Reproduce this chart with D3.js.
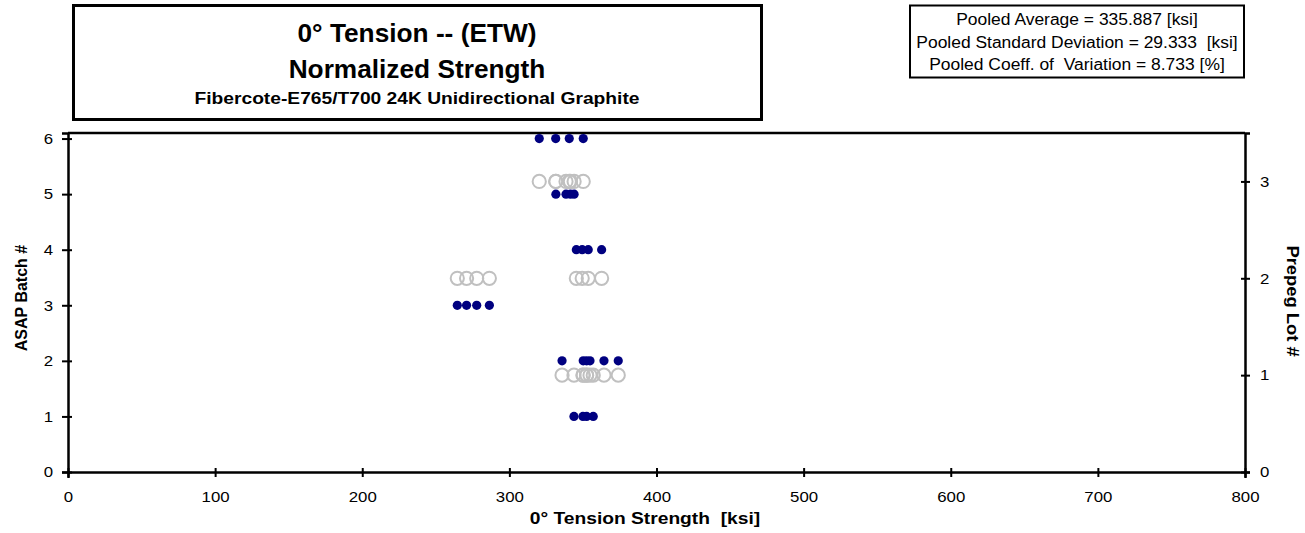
<!DOCTYPE html>
<html><head><meta charset="utf-8">
<script src="https://cdn.jsdelivr.net/npm/d3@7"></script>
<style>body{margin:0;background:#fff}svg{display:block}text{font-family:"Liberation Sans",Arial,sans-serif;white-space:pre}</style>
</head><body><svg id="c" width="1305" height="533"></svg>
<script>
// ---- data (ksi) ----
const batchNumbers = [1, 2, 3, 4, 5, 6];
const batch1 = [343.9, 350.0, 352.5, 357.0];
const batch2 = [335.8, 350.2, 352.5, 354.8, 364.3, 374.0];
const batch3 = [264.6, 270.9, 277.8, 286.4];
const batch4 = [345.5, 349.5, 353.6, 362.7];
const batch5 = [331.6, 338.5, 341.5, 344.0];
const batch6 = [320.3, 331.5, 340.7, 350.2];
const lotNumbers = [1, 2, 3];
const lot1 = [343.9, 350.0, 352.5, 357.0, 335.8, 350.2, 352.5, 354.8, 364.3, 374.0];
const lot2 = [264.6, 270.9, 277.8, 286.4, 345.5, 349.5, 353.6, 362.7];
const lot3 = [331.6, 338.5, 341.5, 344.0, 320.3, 331.5, 340.7, 350.2];
const xTicks = [0, 100, 200, 300, 400, 500, 600, 700, 800];
const leftTicks = [0, 1, 2, 3, 4, 5, 6];
const rightTicks = [0, 1, 2, 3];
const titleLines = ["0° Tension -- (ETW)", "Normalized Strength", "Fibercote-E765/T700 24K Unidirectional Graphite"];
const statsLines = ["Pooled Average = 335.887 [ksi]", "Pooled Standard Deviation = 29.333  [ksi]", "Pooled Coeff. of  Variation = 8.733 [%]"];
const xTitle = "0° Tension Strength  [ksi]";
const yLeftTitle = "ASAP Batch #";
const yRightTitle = "Prepeg Lot #";

const batches = [batch1, batch2, batch3, batch4, batch5, batch6];
const lots = [lot1, lot2, lot3];

// ---- helpers ----
function stretch(sel, sx) {
  sel.each(function () {
    const w = this.getComputedTextLength();
    this.setAttribute("textLength", (w * sx).toFixed(2));
    this.setAttribute("lengthAdjust", "spacingAndGlyphs");
  });
}

// ---- layout ----
const svg = d3.select("#c");
const L = 68, R = 1245, T = 133, B = 472;
const x = d3.scaleLinear().domain([0, 800]).range([L, R]);
const yL = d3.scaleLinear().domain([0, 6.1]).range([B, T]);
const yR = d3.scaleLinear().domain([0, 3.5]).range([B, T]);

svg.append("rect").attr("width", 1305).attr("height", 533).attr("fill", "#fff");

// title box
const tb = svg.append("g");
tb.append("rect").attr("x", 73.5).attr("y", 5.5).attr("width", 688).attr("height", 114)
  .attr("fill", "none").attr("stroke", "#000").attr("stroke-width", 3);
const tcx = 417;
stretch(tb.append("text").attr("x", tcx).attr("y", 42).attr("text-anchor", "middle")
  .attr("font-size", 25).attr("font-weight", "bold").text(titleLines[0]), 1.05);
stretch(tb.append("text").attr("x", tcx).attr("y", 78).attr("text-anchor", "middle")
  .attr("font-size", 25).attr("font-weight", "bold").text(titleLines[1]), 1.05);
stretch(tb.append("text").attr("x", tcx).attr("y", 104).attr("text-anchor", "middle")
  .attr("font-size", 16).attr("font-weight", "bold").text(titleLines[2]), 1.2);

// stats box
const sb = svg.append("g");
sb.append("rect").attr("x", 910).attr("y", 5.5).attr("width", 334).attr("height", 72)
  .attr("fill", "none").attr("stroke", "#000").attr("stroke-width", 2);
statsLines.forEach((s, i) => {
  stretch(sb.append("text").attr("x", 1077).attr("y", 25 + i * 22.5).attr("text-anchor", "middle")
    .attr("font-size", 16).text(s), 1.09);
});

// plot frame top line
svg.append("line").attr("x1", L).attr("x2", R).attr("y1", T).attr("y2", T)
  .attr("stroke", "#000").attr("stroke-width", 2.5);

function styleAxis(g) {
  g.select(".domain").attr("stroke", "#000").attr("stroke-width", 2.5);
  g.selectAll(".tick line").attr("stroke", "#000").attr("stroke-width", 2);
  g.selectAll("text").attr("fill", "#000").attr("font-size", 15)
    .attr("font-family", '"Liberation Sans",Arial,sans-serif');
  stretch(g.selectAll("text"), 1.12);
}

// bottom axis
const gx = svg.append("g").attr("transform", `translate(0,${B})`)
  .call(d3.axisBottom(x).tickValues(xTicks).tickSizeOuter(0).tickSize(6).tickPadding(13).tickFormat(d3.format("d")));
gx.selectAll(".tick line").attr("y1", -4).attr("y2", 5);
styleAxis(gx);

// left axis
const gl = svg.append("g").attr("transform", `translate(${L},0)`)
  .call(d3.axisLeft(yL).tickValues(leftTicks).tickSizeOuter(0).tickSize(6).tickPadding(9).tickFormat(d3.format("d")));
gl.selectAll(".tick line").attr("x1", -6).attr("x2", 4);
styleAxis(gl);

// right axis
const gr = svg.append("g").attr("transform", `translate(${R},0)`)
  .call(d3.axisRight(yR).tickValues(rightTicks).tickSizeOuter(0).tickSize(5).tickPadding(10).tickFormat(d3.format("d")));
gr.selectAll(".tick line").attr("x1", -4).attr("x2", 5);
styleAxis(gr);

// axis titles
stretch(svg.append("text").attr("x", 645).attr("y", 524).attr("text-anchor", "middle")
  .attr("font-size", 16).attr("font-weight", "bold").text(xTitle), 1.2);
svg.append("text").attr("transform", `translate(27,298) rotate(-90)`).attr("text-anchor", "middle")
  .attr("font-size", 16).attr("font-weight", "bold").text(yLeftTitle);
stretch(svg.append("text").attr("transform", `translate(1287,301) rotate(90)`).attr("text-anchor", "middle")
  .attr("font-size", 17).attr("font-weight", "bold").text(yRightTitle), 1.08);

// lot circles
const lotG = svg.append("g");
lots.forEach((vals, i) => {
  lotG.selectAll(null).data(vals).enter().append("circle")
    .attr("cx", d => x(d)).attr("cy", yR(lotNumbers[i])).attr("r", 6.6)
    .attr("fill", "none").attr("stroke", "#c0c0c0").attr("stroke-width", 2);
});

// batch dots
const batchG = svg.append("g");
batches.forEach((vals, i) => {
  batchG.selectAll(null).data(vals).enter().append("circle")
    .attr("cx", d => x(d)).attr("cy", yL(batchNumbers[i])).attr("r", 4.6)
    .attr("fill", "#000080");
});
</script></body></html>
